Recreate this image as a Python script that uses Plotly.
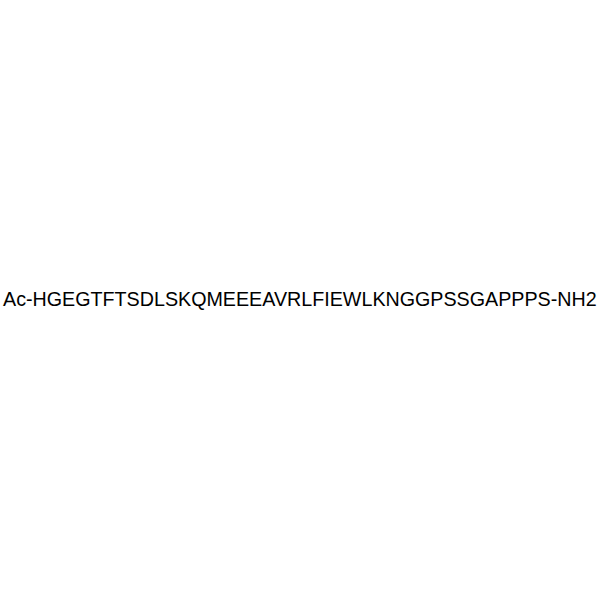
import plotly.graph_objects as go

# Peptide sequence label shown in the middle of the canvas
label = "Ac-HGEGTFTSDLSKQMEEEAVRLFIEWLKNGGPSSGAPPPS-NH2"
label_x = 0.5
label_y = 0.502

fig = go.Figure()
fig.add_annotation(
    x=label_x, y=label_y,
    xref="paper", yref="paper",
    xanchor="center", yanchor="middle",
    text=label,
    showarrow=False,
    font=dict(family="Liberation Sans, Arial", size=19.7, color="black"),
)
fig.update_layout(
    width=600, height=600,
    margin=dict(l=0, r=0, t=0, b=0),
    paper_bgcolor="white", plot_bgcolor="white",
    showlegend=False,
    xaxis=dict(visible=False, fixedrange=True),
    yaxis=dict(visible=False, fixedrange=True),
)

# drop the browser's default body margin so the figure fills the window
fig.write_html(
    "out.html",
    config={"displayModeBar": False},
    post_script="document.body.style.margin='0';",
)
